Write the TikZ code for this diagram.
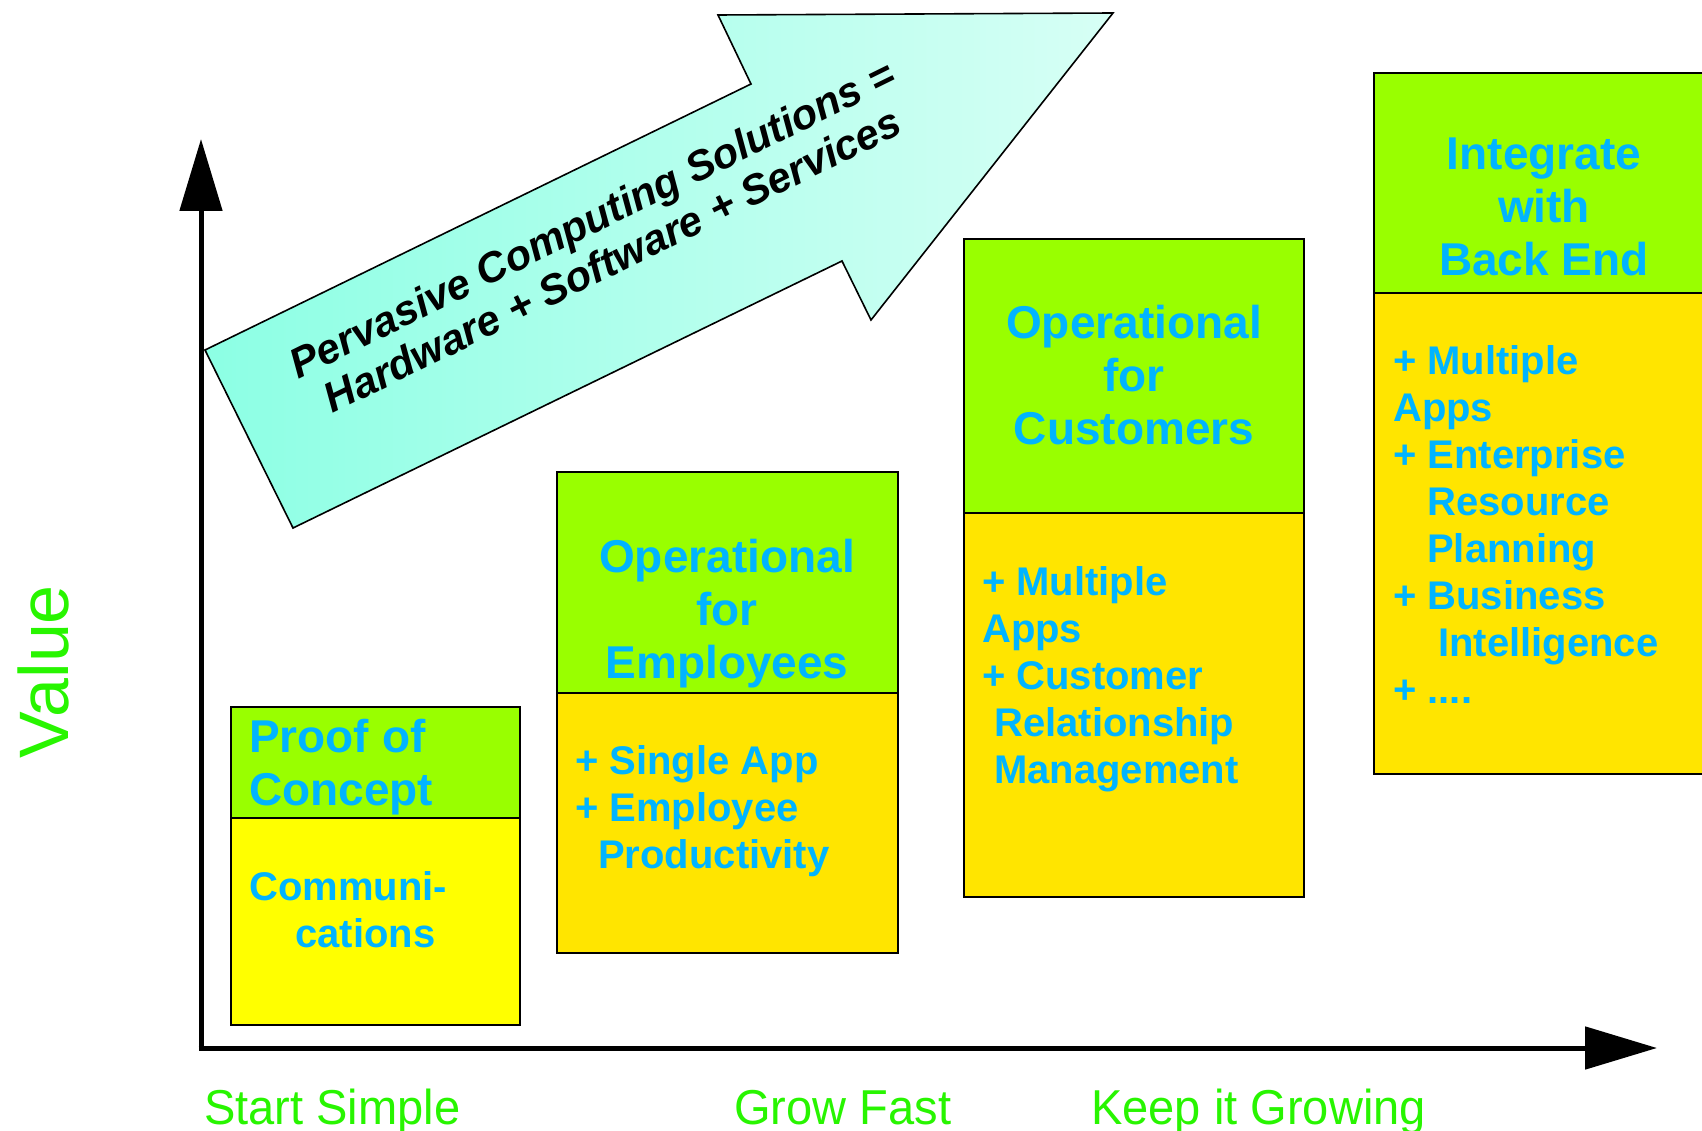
\documentclass[tikz,border=0pt]{standalone}
\usepackage{fontspec}
\setmainfont{Liberation Sans}
\newfontfamily\stepfont[FakeStretch=0.96]{Liberation Sans}
\usepackage{tikz}
\usetikzlibrary{arrows.meta,positioning,calc}
\definecolor{titlegreen}{RGB}{153,255,0}
\definecolor{bodyyellow}{RGB}{255,229,0}
\definecolor{pocyellow}{RGB}{255,255,0}
\definecolor{textblue}{RGB}{0,180,255}
\definecolor{labelgreen}{RGB}{40,245,0}
\definecolor{arrowleft}{RGB}{140,255,228}
\definecolor{arrowright}{RGB}{215,255,245}
\newcommand{\titlefont}{\fontsize{46}{53}\selectfont\bfseries}
\newcommand{\bodyfont}{\fontsize{40}{47}\selectfont\bfseries}

\begin{document}
\begin{tikzpicture}[x=1pt,y=-1pt,
  box/.style={draw,line width=1.6pt,anchor=north west,inner sep=0pt,outer sep=0pt},
  axis/.style={line width=5pt,-{Triangle[length=72pt,width=42pt]}},
  boxtext/.style={text=textblue,inner sep=0pt},
  steplabel/.style={text=labelgreen,font=\stepfont\fontsize{49}{55}\selectfont,anchor=base west,inner sep=0pt}]
\clip (0,0) rectangle (1702,1131);
\fill[white] (0,0) rectangle (1702,1131);
% big arrow
\draw[line width=1.6pt,left color=arrowleft,right color=arrowright,shading angle=90] (205,350) -- (751,84) -- (718,15) -- (1113,13) -- (871,320) -- (842,261) -- (293,528) -- cycle;
\node[rotate=26.2,align=center,inner sep=0pt,font=\fontsize{42}{46}\selectfont\bfseries\itshape] (claim) at (602,239) {Pervasive Computing Solutions =\\Hardware + Software + Services};
% axes
\coordinate (origin) at (201,1048);
\coordinate (ytip) at (201,139);
\coordinate (xtip) at (1657,1048);
\draw[axis] ($(origin)+(0,2.5)$) -- (ytip);
\draw[axis] ($(origin)+(-2.5,0)$) -- (xtip);
% boxes
\node[box,fill=titlegreen,minimum width=289pt,minimum height=111pt] (poctop) at (231,707) {};
\node[box,fill=pocyellow,minimum width=289pt,minimum height=207pt] (pocbody) at (231,818) {};
\node[box,fill=titlegreen,minimum width=341pt,minimum height=221pt] (emptop) at (557,472) {};
\node[box,fill=bodyyellow,minimum width=341pt,minimum height=260pt] (empbody) at (557,693) {};
\node[box,fill=titlegreen,minimum width=340pt,minimum height=274pt] (custop) at (964,239) {};
\node[box,fill=bodyyellow,minimum width=340pt,minimum height=384pt] (cusbody) at (964,513) {};
\node[box,fill=titlegreen,minimum width=360pt,minimum height=220pt] (backtop) at (1374,73) {};
\node[box,fill=bodyyellow,minimum width=360pt,minimum height=481pt] (backbody) at (1374,293) {};
% box texts
\node[boxtext,anchor=north west,align=left,font=\titlefont] (poctitle) at (249,719) {Proof of\\Concept};
\node[boxtext,anchor=north west,align=left,font=\bodyfont] (poctext) at (249,871) {Communi-\\\hspace*{46pt}cations};
\node[boxtext,anchor=north,align=center,font=\titlefont] (emptitle) at (727,539) {Operational\\for\\Employees};
\node[boxtext,anchor=north west,align=left,font=\bodyfont] (emptext) at (575,745) {+ Single App\\+ Employee\\\hspace*{23pt}Productivity};
\node[boxtext,anchor=north,align=center,font=\titlefont] (custitle) at (1134,305) {Operational\\for\\Customers};
\node[boxtext,anchor=north west,align=left,font=\bodyfont] (custext) at (982,566) {+ Multiple\\Apps\\+ Customer\\\hspace*{12pt}Relationship\\\hspace*{12pt}Management};
\node[boxtext,anchor=north,align=center,font=\titlefont] (backtitle) at (1544,138) {Integrate\\with\\Back End};
\node[boxtext,anchor=north west,align=left,font=\bodyfont] (backtext) at (1393,345) {+ Multiple\\Apps\\+ Enterprise\\\hspace*{34pt}Resource\\\hspace*{34pt}Planning\\+ Business\\\hspace*{45pt}Intelligence\\+ ....};
% axis labels
\node[text=labelgreen,rotate=90,inner sep=0pt,font=\fontsize{70}{74}\selectfont] (value) at (43,672) {Value};
\node[steplabel] (simple) at (204,1124) {Start Simple};
\node[steplabel] (fast) at (734,1124) {Grow Fast};
\node[steplabel] (growing) at (1091,1124) {Keep it Growing};
\end{tikzpicture}
\end{document}
